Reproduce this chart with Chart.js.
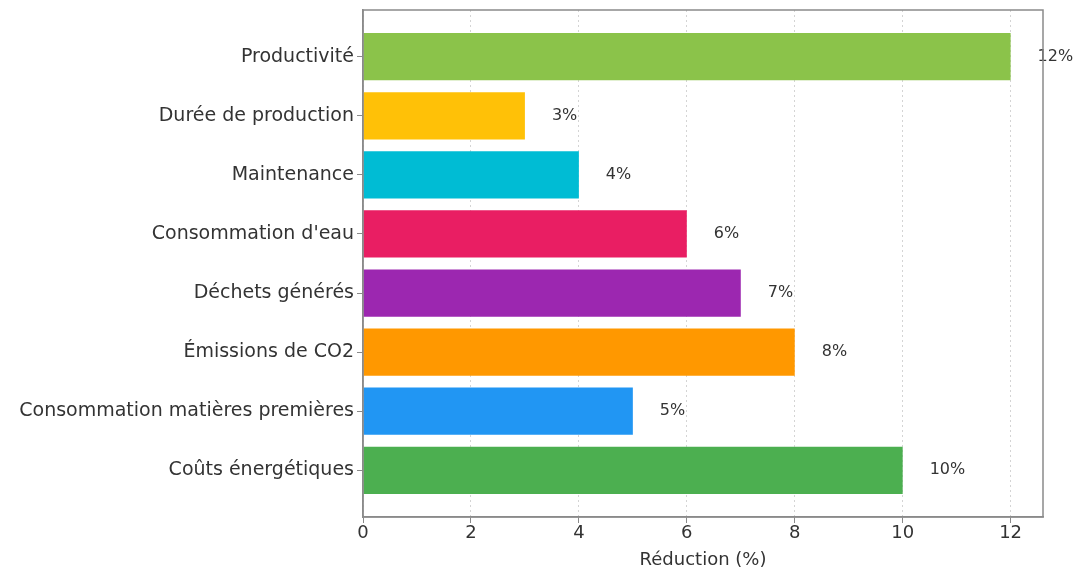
<!DOCTYPE html>
<html><head><meta charset="utf-8">
<script src="https://cdn.jsdelivr.net/npm/chart.js@4"></script>
<style>html,body{margin:0;padding:0;background:#fff}#wrap{width:1077px;height:571px}</style>
</head><body><div id="wrap"><canvas id="c" width="1077" height="571"></canvas></div>
<script>
const categories = ["Productivité","Durée de production","Maintenance","Consommation d'eau","Déchets générés","Émissions de CO2","Consommation matières premières","Coûts énergétiques"];
const reductions = [12, 3, 4, 6, 7, 8, 5, 10];
const barColors = ["#8BC34A","#FFC107","#00BCD4","#E91E63","#9C27B0","#FF9800","#2196F3","#4CAF50"];
const xAxisTitle = "Réduction (%)";
const valueSuffix = "%";

const FONT = "'DejaVu Sans', sans-serif";
const TEXT = "#333333";
const SPINE = "#8a8a8a";

const framePlugin = {
  id: 'frame',
  afterDraw(chart) {
    const {ctx, chartArea: a} = chart;
    ctx.save();
    ctx.strokeStyle = SPINE; ctx.lineWidth = 1.5;
    ctx.strokeRect(a.left, a.top, a.right - a.left, a.bottom - a.top);
    ctx.restore();
  }
};
const valueLabels = {
  id: 'valueLabels',
  afterDatasetsDraw(chart) {
    const {ctx, scales: {x, y}} = chart;
    ctx.save();
    ctx.font = "16px " + FONT; ctx.fillStyle = TEXT;
    ctx.textAlign = 'left'; ctx.textBaseline = 'middle';
    reductions.forEach((v, i) => {
      ctx.fillText(v + valueSuffix, x.getPixelForValue(v + 0.5), y.getPixelForValue(i));
    });
    ctx.restore();
  }
};

new Chart(document.getElementById('c'), {
  type: 'bar',
  data: {
    datasets: [{
      data: reductions.map((v, i) => ({x: v, y: i})),
      backgroundColor: barColors,
      borderWidth: 0,
      categoryPercentage: 1.0,
      barPercentage: 0.8
    }]
  },
  options: {
    indexAxis: 'y',
    responsive: false,
    devicePixelRatio: 1,
    animation: false,
    layout: {padding: {top: 10, right: 34, left: 0, bottom: 0}},
    plugins: {legend: {display: false}, tooltip: {enabled: false}},
    scales: {
      x: {
        type: 'linear', min: 0, max: 12.6,
        afterFit: s => { s.height = 54; },
        ticks: {stepSize: 2, includeBounds: false, color: TEXT, font: {family: FONT, size: 18}, padding: 0},
        grid: {color: '#d4d4d4', tickColor: SPINE, tickLength: 6, tickBorderDash: []},
        border: {display: true, color: SPINE, width: 1.5, dash: [2, 3]},
        title: {display: true, text: xAxisTitle, color: TEXT, font: {family: FONT, size: 18}, padding: {top: 2, bottom: 0}}
      },
      y: {
        type: 'linear', reverse: true, min: -0.79, max: 7.79, offset: false,
        afterFit: s => { s.width = 363; s.paddingTop = 0; s.paddingBottom = 0; },
        ticks: {stepSize: 1, includeBounds: false, autoSkip: false, color: TEXT,
          font: {family: FONT, size: 19}, padding: 3,
          callback: v => categories[v]},
        grid: {offset: false, drawOnChartArea: false, tickColor: SPINE, tickLength: 6},
        border: {display: true, color: SPINE, width: 1.5}
      }
    }
  },
  plugins: [framePlugin, valueLabels]
});
</script></body></html>
